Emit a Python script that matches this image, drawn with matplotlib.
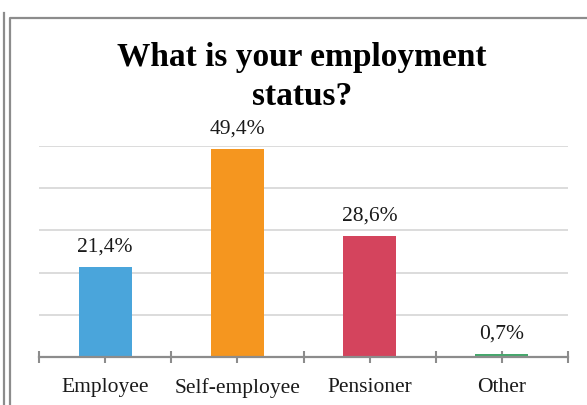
import matplotlib
matplotlib.use('Agg')
import numpy as np
import matplotlib.pyplot as plt
from matplotlib.lines import Line2D

categories = ['Employee', 'Self-employee', 'Pensioner', 'Other']
shares = [21.4, 49.4, 28.6, 0.7]
bar_colors = ['#4aa5db', '#f5961f', '#d4445d', '#45a86c']
title = 'What is your employment\nstatus?'

plt.rcParams['font.family'] = ['Liberation Serif', 'DejaVu Serif']

W, H = 587, 405
fig = plt.figure(figsize=(W / 100, H / 100), dpi=100)
ax = fig.add_axes([39 / W, 1 - 357 / H, (568 - 39) / W, (357 - 146) / H])

x = np.arange(len(categories))
bars = ax.bar(x, shares, width=0.4, color=bar_colors, zorder=3)

ax.set_xlim(-0.5, len(categories) - 0.5)
ax.set_ylim(0, 50)
ax.set_yticks([10, 20, 30, 40, 50])
ax.yaxis.grid(True, color='#d9d9d9', linewidth=1.3)
ax.set_axisbelow(True)
ax.tick_params(axis='y', left=False, labelleft=False)

for s in ['left', 'right', 'top']:
    ax.spines[s].set_visible(False)
ax.spines['bottom'].set_color('#8c8c8c')
ax.spines['bottom'].set_linewidth(1.6)
ax.spines['bottom'].set_zorder(4)

ax.set_xticks(x)
ax.set_xticklabels(categories, fontsize=15.5, color='#1a1a1a')
ax.set_xticks(np.arange(-0.5, len(categories)), minor=True)
ax.tick_params(axis='x', which='both', direction='inout', length=9,
               width=1.5, color='#8c8c8c', pad=10.5)

for rect, v in zip(bars, shares):
    ax.annotate(f'{v:.1f}'.replace('.', ',') + '%',
                (rect.get_x() + rect.get_width() / 2, rect.get_height()),
                xytext=(0, 11), textcoords='offset points',
                ha='center', va='baseline', fontsize=15.5, color='#1a1a1a')

fig.text(302 / W, 1 - 105 / H, title, ha='center', va='baseline',
         fontsize=24, fontweight='bold', linespacing=1.33, color='black')

# frame lines around the chart
border = '#8c8c8c'
fig.add_artist(Line2D([4 / W, 4 / W], [0, 1 - 13 / H], transform=fig.transFigure,
                      color=border, linewidth=1.6))
fig.add_artist(Line2D([10 / W, 10 / W, 1], [0, 1 - 18 / H, 1 - 18 / H],
                      transform=fig.transFigure, color=border, linewidth=1.6))

fig.savefig('out.png', dpi=100)
